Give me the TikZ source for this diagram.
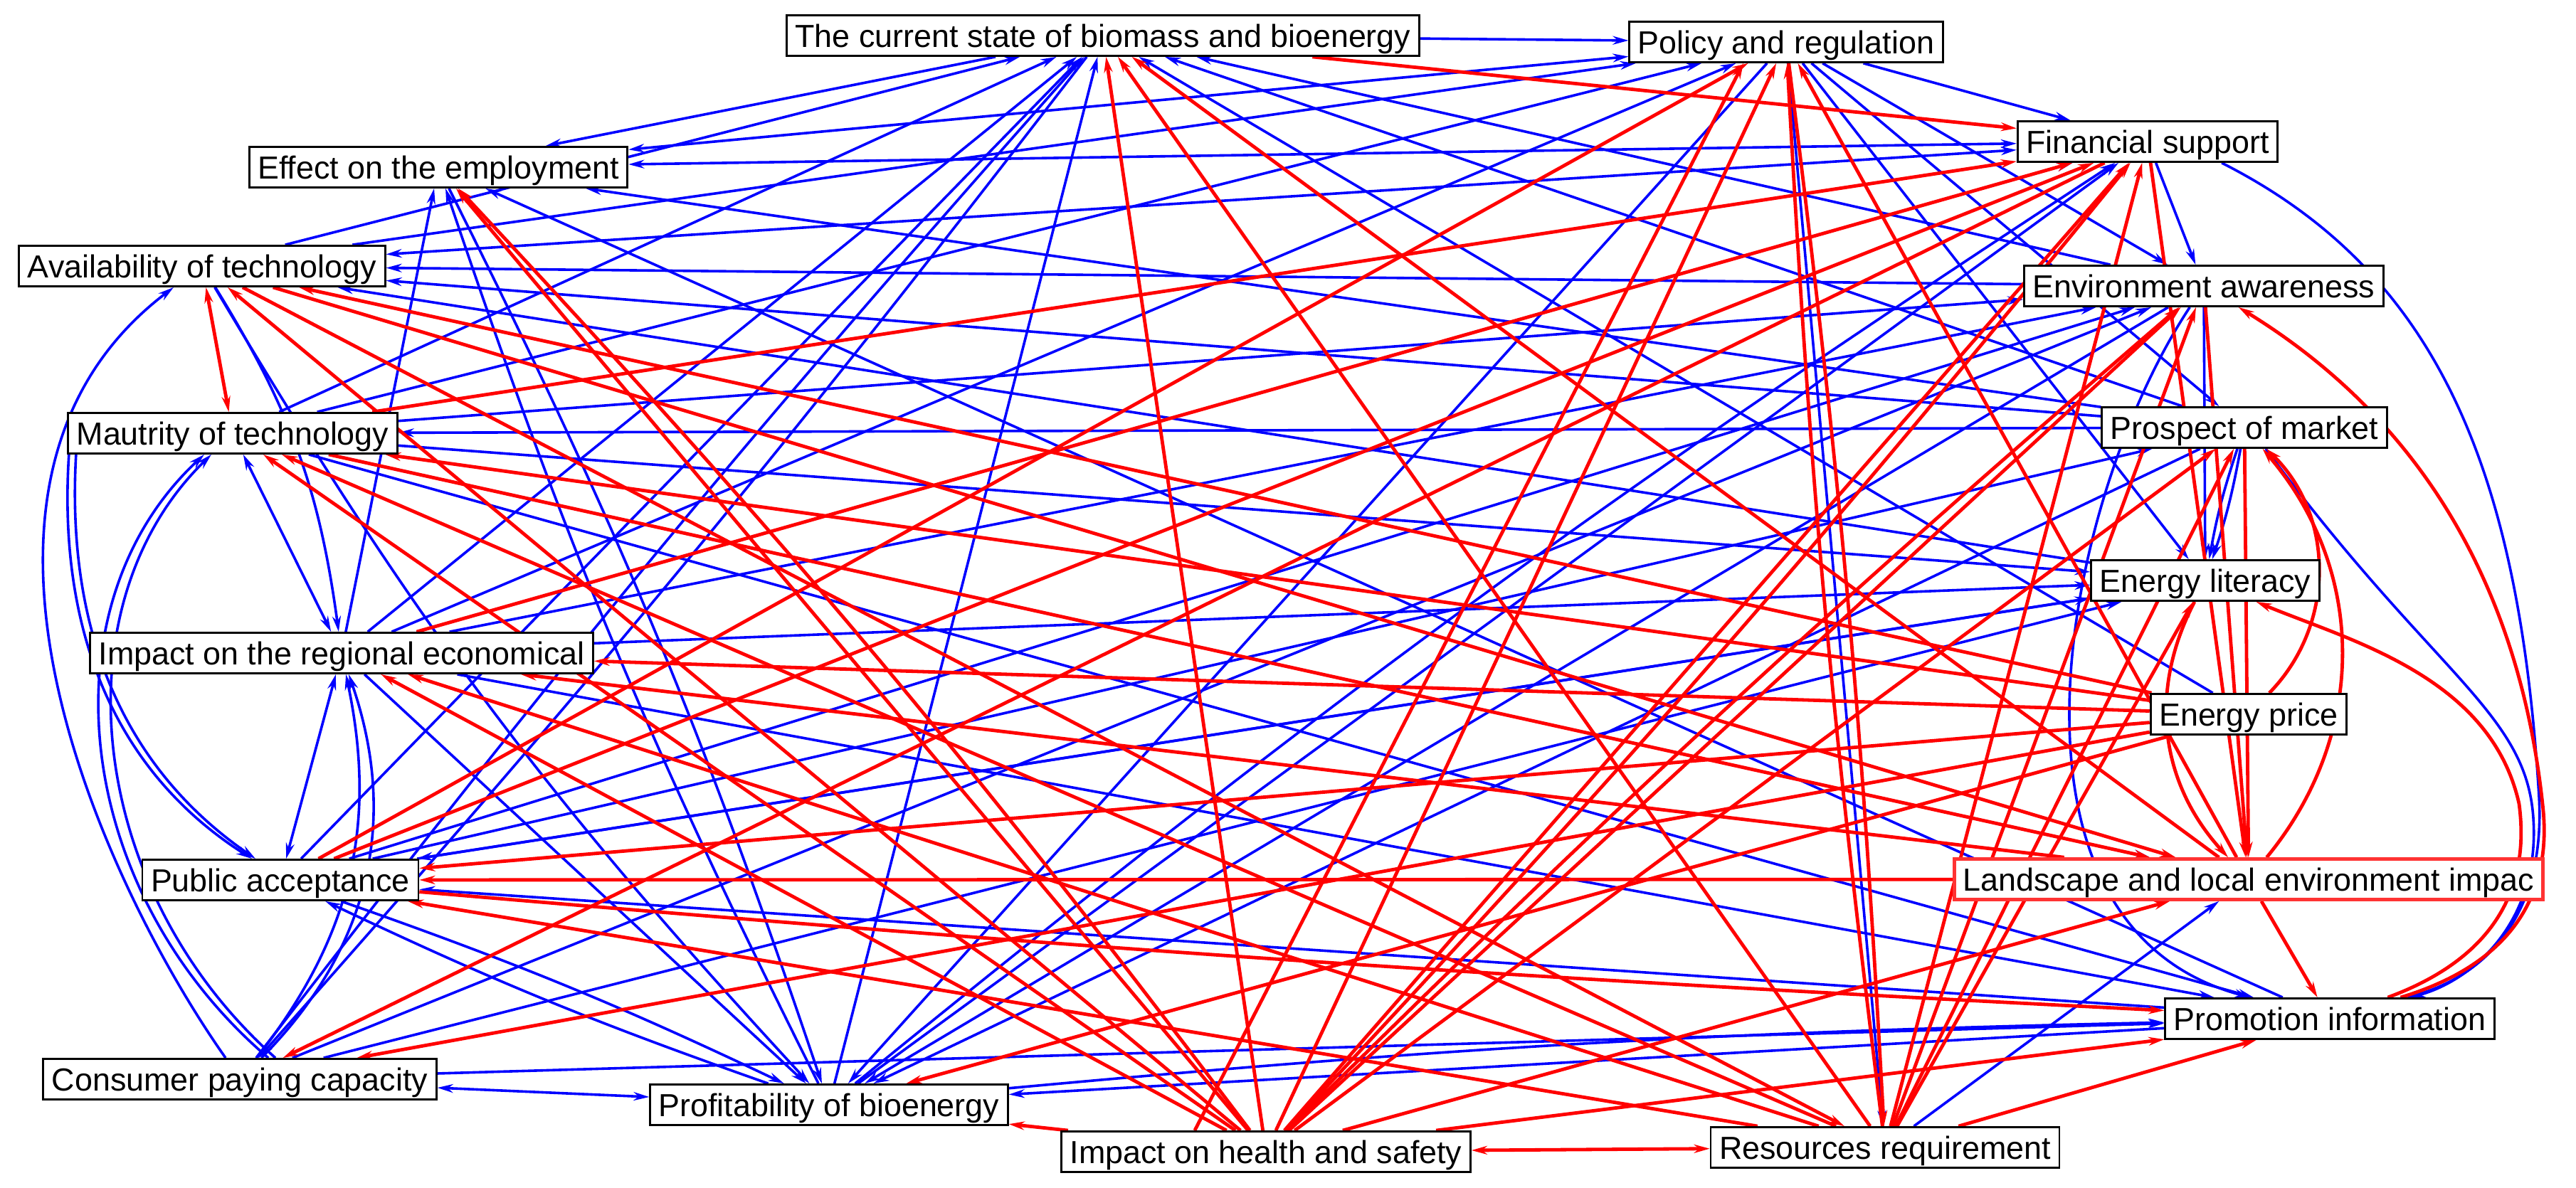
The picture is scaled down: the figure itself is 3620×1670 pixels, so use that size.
\documentclass[tikz,border=0pt]{standalone}
\usepackage{fontspec}
\setmainfont{Liberation Sans}
\usetikzlibrary{arrows.meta}
\pgfdeclarelayer{bg}
\pgfsetlayers{bg,main}
\definecolor{lered}{RGB}{255,51,51}
\begin{document}
\begin{tikzpicture}[x=0.01cm,y=-0.01cm,
  >={Stealth[length=0.22cm,width=0.12cm]},
  box/.style={draw=black,line width=0.028cm,fill=white,font=\fontsize{12.75}{15}\selectfont,
    text height=0.32cm,text depth=0cm,minimum height=0.57cm,inner xsep=0.12cm,inner ysep=0cm},
  bl/.style={draw=blue,line width=0.036cm,->},
  rd/.style={draw=red,line width=0.048cm,->}]
\useasboundingbox (0,0) rectangle (3620,1670);
\node[box] (cs) at (1550,50) {The current state of biomass and bioenergy};
\node[box] (pr) at (2510,59) {Policy and regulation};
\node[box] (fs) at (3018,199) {Financial support};
\node[box] (ee) at (616,235) {Effect on the employment};
\node[box] (at) at (284,374) {Availability of technology};
\node[box] (ea) at (3097,402) {Environment awareness};
\node[box] (mt) at (327,609) {Mautrity of technology};
\node[box] (pm) at (3154,601) {Prospect of market};
\node[box] (el) at (3099,816) {Energy literacy};
\node[box] (ir) at (480,918) {Impact on the regional economical};
\node[box] (ep) at (3160,1004) {Energy price};
\node[box] (pa) at (394,1237) {Public acceptance};
\node[box,draw=lered,line width=0.045cm] (le) at (3160,1236) {Landscape and local environment impac};
\node[box] (pi) at (3274,1432) {Promotion information};
\node[box] (cp) at (337,1517) {Consumer paying capacity};
\node[box] (pb) at (1165,1553) {Profitability of bioenergy};
\node[box] (ih) at (1779,1619) {Impact on health and safety};
\node[box] (rr) at (2649,1613) {Resources requirement};
\begin{pgfonlayer}{bg}
% ---------------- blue ----------------
\draw[bl] (cs) -- (pr);
\draw[bl] (cs) -- (ee);
\draw[bl,<->] (ee) -- (pr);
\draw[bl,<->] (ee) -- (fs);
\draw[bl,<->] (at) -- (fs);
\draw[bl] (ea) -- (at);
\draw[bl] (pm) -- (at);
\draw[bl] (el) -- (at);
\draw[bl] (pr) -- (fs);
\draw[bl] (pr) -- (ea);
\draw[bl] (fs) -- (ea);
\draw[bl] ([xshift=-0.8cm]fs.south east) .. controls (3420,380) and (3540,650) .. (3568,1120) .. controls (3578,1300) and (3480,1375) .. (pi);
\draw[bl] ([xshift=0.3cm]pm.south) .. controls (3420,950) and (3550,1000) .. (3560,1150) .. controls (3570,1300) and (3470,1380) .. (pi);
\draw[bl] (at) -- (cs);
\draw[bl] (at) -- (pr);
\draw[bl] (mt) -- (pr);
\draw[bl] (ir) -- (pr);
\draw[bl] (pr) -- (pb);
\draw[bl] (pr) -- (rr);
\draw[bl] (pr) -- (el);
\draw[bl] (pr) -- (pm);
\draw[bl] (mt) -- (cs);
\draw[bl] (ir) -- (cs);
\draw[bl] (pa) -- (cs);
\draw[bl] (cp) to[bend left=2] (cs);
\draw[bl] (cs) to[bend left=2] (cp);
\draw[bl] (pb) -- (cs);
\draw[bl] (ep) -- (cs);
\draw[bl] (pm) -- (cs);
\draw[bl] (ea) -- (cs);
\draw[bl] ([xshift=-0.2cm]cp.north) .. controls (150,1250) and (-120,680) .. ([xshift=-0.4cm]at.south);
\draw[bl] ([xshift=-2.3cm]mt.south) .. controls (80,900) and (170,1090) .. ([xshift=-0.4cm]pa.north);
\draw[bl] ([xshift=-2.2cm]mt.south) .. controls (92,900) and (182,1085) .. ([xshift=-0.35cm]pa.north);
\draw[bl] ([xshift=0.4cm]cp.north) .. controls (100,1250) and (60,850) .. ([xshift=-0.4cm]mt.south);
\draw[bl] ([xshift=0.5cm]cp.north) .. controls (120,1250) and (80,850) .. ([xshift=-0.3cm]mt.south);
\draw[bl,<->] (mt) -- (ir);
\draw[bl,<->] (ir) -- (pa);
\draw[bl,<->] (cp) -- (pb);
\draw[bl] (cp) -- (pi);
\draw[bl] (pi) -- (pb);
\draw[bl] (pb) to[bend left=2] (pi);
\draw[bl] (rr) -- (le);
\draw[bl] (ir) -- (ee);
\draw[bl] (ee) to[bend left=4] (pb);
\draw[bl] (pb) to[bend left=4] (ee);
\draw[bl] (at) to[bend right=6] (pb);
\draw[bl] (pi) -- (ee);
\draw[bl] (pm) -- (ee);
\draw[bl] (pm) -- (mt);
\draw[bl] (mt) -- (pi);
\draw[bl] (ir) -- (pi);
\draw[bl] (pi) -- (pa);
\draw[bl] (el) -- (pa);
\draw[bl] (pb) to[bend left=3] (pa);
\draw[bl] (pa) to[bend left=3] (pb);
\draw[bl] (pa) -- (ea);
\draw[bl] (pa) -- (pm);
\draw[bl] (cp) -- (ea);
\draw[bl] (cp) -- (el);
\draw[bl] (cp) to[bend right=25] (ir);
\draw[bl] (cp) to[bend right=32] (ir);
\draw[bl] (at) to[bend left=12] (ir);
\draw[bl] (ir) -- (pb);
\draw[bl] (pm) -- (pb);
\draw[bl] (ea) -- (pb);
\draw[bl] (ea) .. controls (2900,700) and (2780,1300) .. (pi);
\draw[bl] (ea) -- (el);
\draw[bl] (pm) to[bend left=4] (el);
\draw[bl] (pm) to[bend right=4] (el);
\draw[bl] (mt) -- (ea);
\draw[bl] (ir) -- (ea);
\draw[bl] (pb) -- (fs);
\draw[bl] (pb) to[bend left=3] (fs);
\draw[bl] (ir) -- (fs);
\draw[bl] (mt) -- (el);
\draw[bl] (ir) -- (el);
\draw[bl] (pa) -- (el);
\draw[bl] (mt) -- (le);
% ---------------- red ----------------
\draw[rd] (cs) -- (fs);
\draw[rd] (ih) -- (cs);
\draw[rd] (rr) -- (cs);
\draw[rd] (le) -- (cs);
\draw[rd,<->] (at) -- (mt);
\draw[rd] (ih) -- (at);
\draw[rd] (ep) -- (at);
\draw[rd] (at) -- (rr);
\draw[rd] (at) -- (le);
\draw[rd] (ih) -- (mt);
\draw[rd] (ep) -- (mt);
\draw[rd] (mt) -- (le);
\draw[rd] (rr) -- (mt);
\draw[rd] (mt) -- (fs);
\draw[rd] (ih) -- (ee);
\draw[rd] (ih) to[bend right=3] (ee);
\draw[rd] (ep) -- (ir);
\draw[rd] (ih) -- (ir);
\draw[rd] (rr) -- (ir);
\draw[rd] (le) -- (ir);
\draw[rd] (ir) -- (fs);
\draw[rd] (le) -- (pa);
\draw[rd] (ep) -- (pa);
\draw[rd] (rr) -- (pa);
\draw[rd] (pa) -- (pr);
\draw[rd] (pa) -- (fs);
\draw[rd] (pa) to[bend right=1] (pi);
\draw[rd] (fs) -- (cp);
\draw[rd] (ep) -- (cp);
\draw[rd] ([xshift=-1cm]ih.north) -- ([xshift=-0.6cm]pr.south);
\draw[rd] (ih) -- (pr);
\draw[rd] (rr) to[bend left=2] (pr);
\draw[rd] (pr) to[bend left=2] (rr);
\draw[rd] (le) -- (pr);
\draw[rd] (ih) -- (fs);
\draw[rd] (ih) to[bend right=2] (fs);
\draw[rd] (rr) -- (fs);
\draw[rd] (ih) -- (ea);
\draw[rd] (ih) to[bend left=2] (ea);
\draw[rd] (rr) -- (ea);
\draw[rd] (pi) .. controls (3480,1370) and (3588,1300) .. (3574,1140) .. controls (3545,850) and (3420,600) .. (ea);
\draw[rd] (ih) -- (pm);
\draw[rd] (rr) -- (pm);
\draw[rd] (ep) to[bend right=45] (pm);
\draw[rd] (le) to[bend right=40] (pm);
\draw[rd] (pi) .. controls (3470,1360) and (3560,1280) .. (3540,1130) .. controls (3500,950) and (3300,900) .. (el);
\draw[rd] (rr) -- (el);
\draw[rd] (el) to[bend right=35] (le);
\draw[rd] (fs) -- (le);
\draw[rd] (ea) -- (le);
\draw[rd] (pm) -- (le);
\draw[rd] (ih) -- (le);
\draw[rd] (le) -- (pi);
\draw[rd,<->] (ih) -- (rr);
\draw[rd] (ih) -- (pb);
\draw[rd] (ih) -- (pi);
\draw[rd] (rr) -- (pi);
\draw[rd] (ep) -- (pb);
\end{pgfonlayer}
\end{tikzpicture}
\end{document}
